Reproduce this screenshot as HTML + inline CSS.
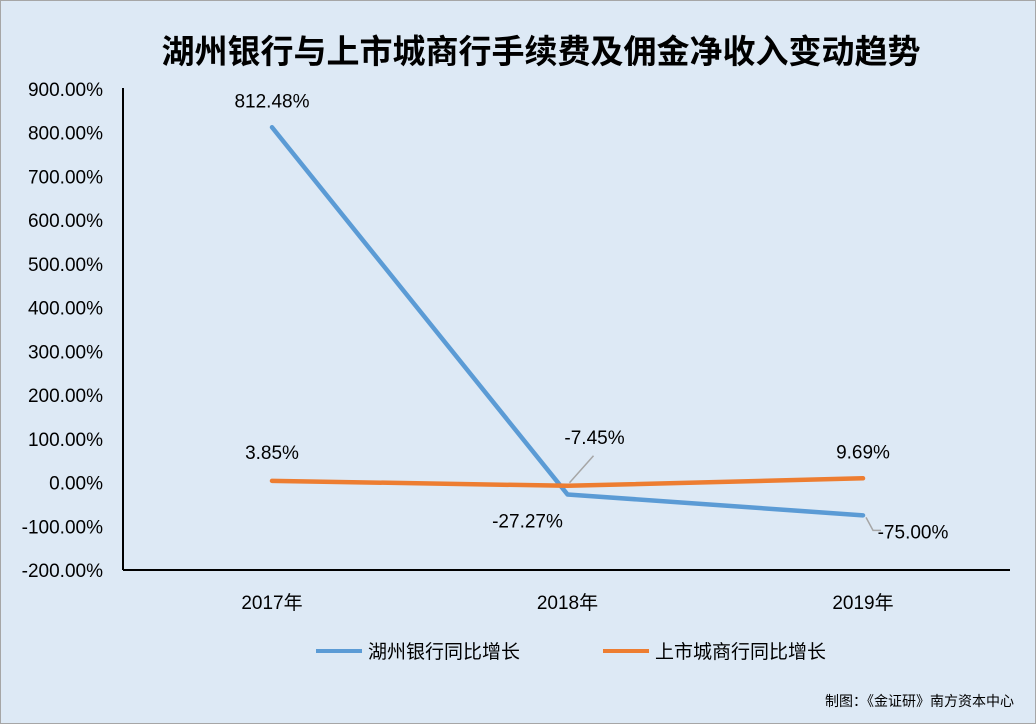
<!DOCTYPE html>
<html><head><meta charset="utf-8"><style>
html,body{margin:0;padding:0;}
body{width:1036px;height:724px;background:#dde9f5;overflow:hidden;font-family:"Liberation Sans","Noto Sans CJK SC",sans-serif;}
#frame{position:absolute;left:0;top:0;width:1034px;height:722px;border:1px solid #a6a6a6;}
</style></head><body>
<div id="frame"></div>
<svg id="chart" width="1036" height="724" style="position:absolute;left:0;top:0">
<text x="541" y="63" text-anchor="middle" font-size="33" font-weight="bold" fill="#000" font-family="Liberation Sans,Noto Sans CJK SC,sans-serif">湖州银行与上市城商行手续费及佣金净收入变动趋势</text>
<g id="yaxis"></g>
<g id="xaxis"></g>
<g id="series"></g>
<g id="labels"></g>
<g>
<line x1="316" y1="651" x2="362" y2="651" stroke="#5b9bd5" stroke-width="4"/>
<text x="368" y="658" font-size="19" fill="#000">湖州银行同比增长</text>
<line x1="603" y1="651" x2="649" y2="651" stroke="#ed7d31" stroke-width="4"/>
<text x="655" y="658" font-size="19" fill="#000">上市城商行同比增长</text>
</g>
<text x="1014" y="706" text-anchor="end" font-size="14" fill="#000">制图：《金证研》南方资本中心</text>
</svg>
<script>
const categories=["2017年","2018年","2019年"];
const huzhouValues=[812.48,-27.27,-75.00];
const cityValues=[3.85,-7.45,9.69];
const yTicks=[900,800,700,600,500,400,300,200,100,0,-100,-200];
const NS="http://www.w3.org/2000/svg";
const plotTop=89,plotBottom=570,plotLeft=123,plotRight=1010;
const yMin=-200,yMax=900;
function y(v){return plotBottom-(v-yMin)/(yMax-yMin)*(plotBottom-plotTop);}
function x(i){return 272+i*295.5;}
function mk(t,a,p){const e=document.createElementNS(NS,t);for(const k in a)e.setAttribute(k,a[k]);p.appendChild(e);return e;}
const ya=document.getElementById('yaxis'),xa=document.getElementById('xaxis'),sg=document.getElementById('series'),lg=document.getElementById('labels');
yTicks.forEach(v=>{const t=mk('text',{x:103,y:y(v)+7,'text-anchor':'end','font-size':19,fill:'#000'},ya);t.textContent=v.toFixed(2)+'%';

});
const al=mk('line',{x1:plotLeft,y1:plotTop-1,x2:plotLeft,y2:plotBottom,stroke:'#000','stroke-width':2},ya);


const bl=mk('line',{x1:plotLeft,y1:plotBottom,x2:plotRight,y2:plotBottom,stroke:'#000','stroke-width':2},xa);


categories.forEach((c,i)=>{const t=mk('text',{x:x(i),y:609,'text-anchor':'middle','font-size':19,fill:'#000'},xa);t.textContent=c;

});
function line(vals,color,name){const p=mk('polyline',{points:vals.map((v,i)=>x(i)+','+y(v)).join(' '),fill:'none',stroke:color,'stroke-width':4.5,'stroke-linejoin':'round','stroke-linecap':'round'},sg);

}
line(huzhouValues,'#5b9bd5','huzhou-line');
line(cityValues,'#ed7d31','city-banks-line');
function lab(tx,ty,v){const t=mk('text',{x:tx,y:ty,'text-anchor':'middle','font-size':19,fill:'#000'},lg);t.textContent=v.toFixed(2)+'%';

}
lab(x(0),y(huzhouValues[0])-20,huzhouValues[0]);
lab(x(1)-40,y(huzhouValues[1])+33,huzhouValues[1]);
lab(x(2)+50,y(huzhouValues[2])+23,huzhouValues[2]);
lab(x(0),y(cityValues[0])-22,cityValues[0]);
lab(x(1)+27,y(cityValues[1])-42,cityValues[1]);
lab(x(2),y(cityValues[2])-20,cityValues[2]);
const l1=mk('polyline',{points:`${x(1)+2},${y(cityValues[1])-3} ${x(1)+26},${y(cityValues[1])-30}`,fill:'none',stroke:'#a6a6a6','stroke-width':1.5},lg);


const l2=mk('polyline',{points:`${x(2)+3},${y(huzhouValues[2])+2} ${x(2)+10},${y(huzhouValues[2])+15} ${x(2)+18},${y(huzhouValues[2])+15}`,fill:'none',stroke:'#a6a6a6','stroke-width':1.5},lg);


</script>
</body></html>
